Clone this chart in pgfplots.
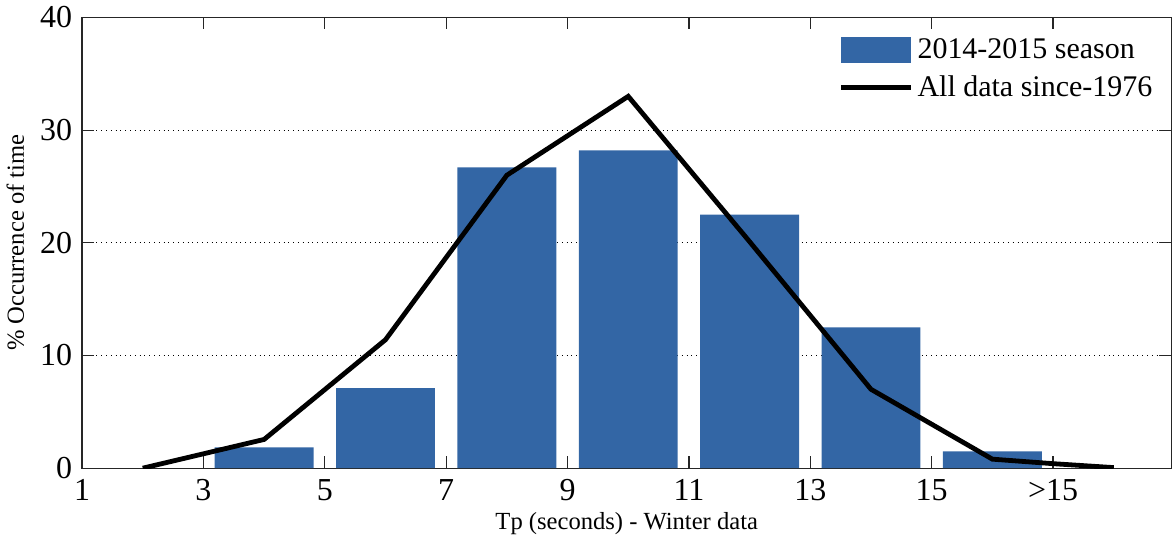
\documentclass[border=0pt]{standalone}
\usepackage{fontspec}
\setmainfont{Liberation Serif}
\newfontfamily\labelfont{Liberation Serif}
\usepackage{pgfplots}
\pgfplotsset{compat=1.18}
\definecolor{barblue}{RGB}{51,102,165}
\begin{document}
\begin{tikzpicture}
\begin{axis}[
  scale only axis,
  width=545pt, height=225.5pt,
  xmin=1, xmax=18.95, ymin=0, ymax=40,
  xtick={1,3,5,7,9,11,13,15,17},
  xticklabels={1,3,5,7,9,11,13,15,>15},
  ytick={0,10,20,30,40},
  tick align=inside,
  major tick length=6pt,
  ymajorgrids,
  grid style={dotted, black, line width=0.6pt},
  axis line style={line width=0.6pt, black!85},
  tick style={line width=0.6pt, black!85},
  /pgf/number format/assume math mode=true,
  tick label style={font=\labelfont\fontsize{16}{18}\selectfont},
  xticklabel style={yshift=-2pt},
  yticklabel style={xshift=-1.5pt},
  label style={font=\labelfont\fontsize{12.3}{14}\selectfont},
  xlabel={Tp (seconds) - Winter data},
  ylabel={\% Occurrence of time},
  xlabel style={yshift=1pt},
  ylabel style={yshift=1pt},
  legend style={draw=none, fill=none, at={(rel axis cs:0.992,0.972)}, anchor=north east,
    font=\labelfont\fontsize{15}{17}\selectfont, row sep=3pt},
  legend cell align=left,
]
\addplot[ybar, bar width=1.63, fill=barblue, draw=none,
  legend image code/.code={\fill[barblue] (0pt,-6.5pt) rectangle (35pt,6.5pt);}]
  coordinates {(4,1.85) (6,7.1) (8,26.7) (10,28.2) (12,22.5) (14,12.5) (16,1.5)};
\addlegendentry{2014-2015 season}
\addplot[black, line width=2.4pt,
  legend image code/.code={\draw[black, line width=2.4pt] (0pt,0pt) -- (35pt,0pt);}]
  coordinates {(2,0) (4,2.55) (6,11.4) (8,26) (10,33) (12,20.1) (14,7) (16,0.8) (17,0.4) (18,0.05)};
\addlegendentry{All data since-1976}
\end{axis}
\end{tikzpicture}
\end{document}
